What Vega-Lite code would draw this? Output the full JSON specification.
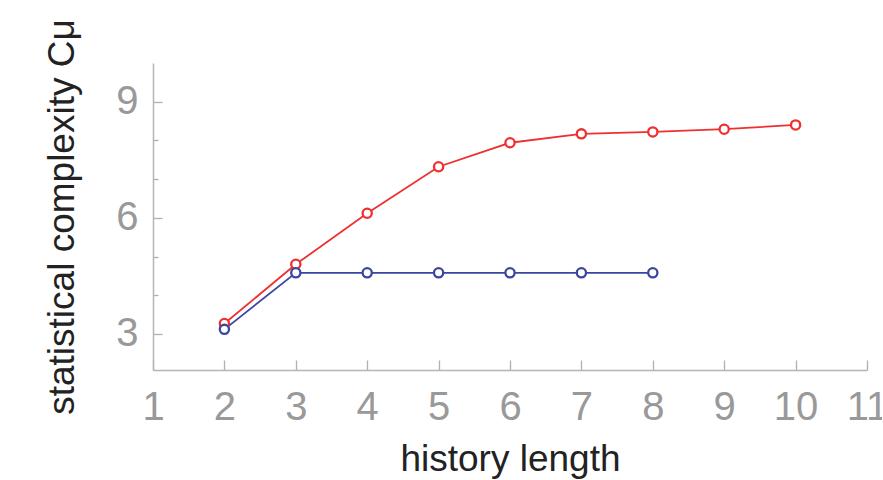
{
  "$schema": "https://vega.github.io/schema/vega-lite/v6.json",
  "autosize": {"type": "none"},
  "padding": {"left": 153, "top": 63, "right": 15, "bottom": 110},
  "width": 714,
  "height": 307,
  "background": "white",
  "config": {
    "view": {"stroke": null},
    "font": "Liberation Sans",
    "axis": {
      "grid": false,
      "ticks": true,
      "domainColor": "#b5b5b5",
      "domainWidth": 1.5,
      "tickColor": "#b0b0b0",
      "tickWidth": 1.3,
      "labelColor": "#999999",
      "labelFont": "Liberation Sans",
      "labelFontSize": 40,
      "titleFont": "Liberation Sans",
      "titleFontSize": 37,
      "titleFontWeight": "normal",
      "titleColor": "#222222"
    }
  },
  "data": {
    "values": [
      {"series": "red", "length": 2, "complexity": 3.27},
      {"series": "red", "length": 3, "complexity": 4.8},
      {"series": "red", "length": 4, "complexity": 6.12},
      {"series": "red", "length": 5, "complexity": 7.32},
      {"series": "red", "length": 6, "complexity": 7.94},
      {"series": "red", "length": 7, "complexity": 8.17},
      {"series": "red", "length": 8, "complexity": 8.22},
      {"series": "red", "length": 9, "complexity": 8.29},
      {"series": "red", "length": 10, "complexity": 8.4},
      {"series": "blue", "length": 2, "complexity": 3.12},
      {"series": "blue", "length": 3, "complexity": 4.58},
      {"series": "blue", "length": 4, "complexity": 4.58},
      {"series": "blue", "length": 5, "complexity": 4.58},
      {"series": "blue", "length": 6, "complexity": 4.58},
      {"series": "blue", "length": 7, "complexity": 4.58},
      {"series": "blue", "length": 8, "complexity": 4.58}
    ]
  },
  "encoding": {
    "x": {
      "field": "length",
      "type": "quantitative",
      "title": "history length",
      "scale": {"domain": [1, 11], "nice": false, "zero": false},
      "axis": {
        "values": [1, 2, 3, 4, 5, 6, 7, 8, 9, 10, 11],
        "tickSize": -10,
        "labelPadding": 27,
        "labelFlush": false,
        "labelOverlap": false,
        "titlePadding": 14
      }
    },
    "y": {
      "field": "complexity",
      "type": "quantitative",
      "title": "statistical complexity Cμ",
      "scale": {"domain": [2.07, 10], "nice": false, "zero": false},
      "axis": {
        "values": [3, 4, 5, 6, 7, 8, 9],
        "labelExpr": "datum.value % 3 === 0 ? datum.label : ''",
        "tickSize": {"condition": {"test": "datum.value % 3 === 0", "value": -9}, "value": -5},
        "labelPadding": 24,
        "labelFlush": false,
        "titlePadding": 34
      }
    },
    "color": {
      "field": "series",
      "type": "nominal",
      "scale": {"domain": ["red", "blue"], "range": ["#ef3030", "#3a46a0"]},
      "legend": null
    }
  },
  "layer": [
    {"mark": {"type": "line", "strokeWidth": 1.8}},
    {"mark": {"type": "point", "shape": "circle", "filled": false, "fill": "white", "fillOpacity": 1, "size": 85, "strokeWidth": 2.3, "opacity": 1}}
  ]
}
